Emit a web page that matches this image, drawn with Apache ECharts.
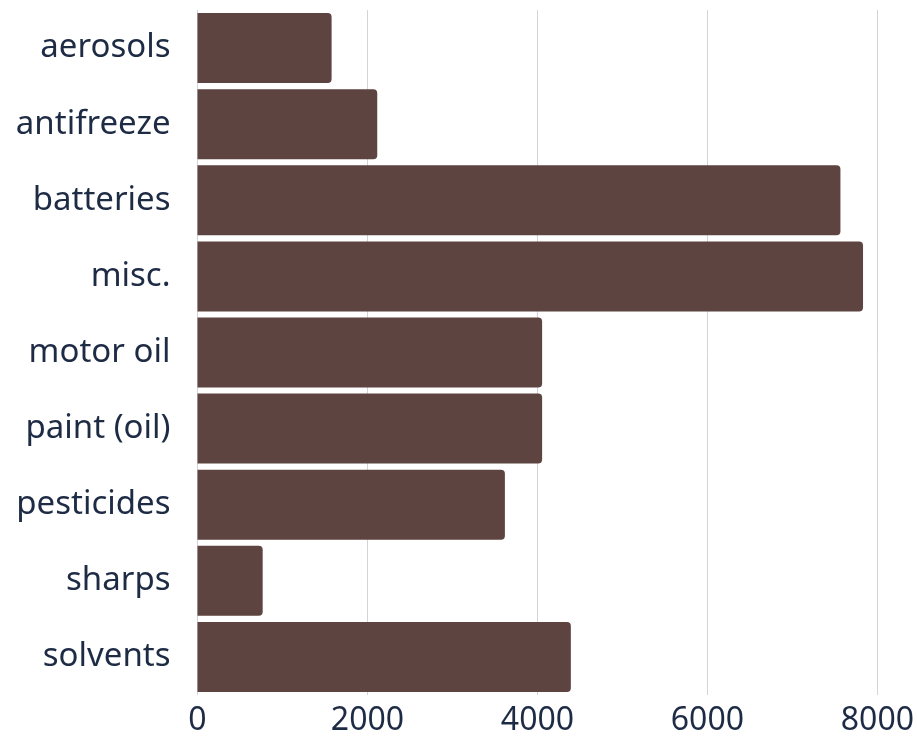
<!DOCTYPE html>
<html>
<head>
<meta charset="utf-8">
<script src="https://cdn.jsdelivr.net/npm/echarts@6/dist/echarts.min.js"></script>
<style>
html,body{margin:0;padding:0;background:#fff;}
#chart{width:917px;height:740px;}
</style>
</head>
<body>
<div id="chart"></div>
<script>
const categories = ['aerosols','antifreeze','batteries','misc.','motor oil','paint (oil)','pesticides','sharps','solvents'];
const values = [1578, 2115, 7565, 7831, 4055, 4055, 3617, 767, 4393];
const xTicks = [0, 2000, 4000, 6000, 8000];

const chart = echarts.init(document.getElementById('chart'), null, {renderer:'canvas'});
chart.setOption({
  animation: false,
  backgroundColor: '#ffffff',
  grid: {left: 197.5, right: 37, top: 10, bottom: 45, containLabel: false},
  xAxis: {
    type: 'value',
    min: xTicks[0],
    max: xTicks[xTicks.length-1],
    interval: xTicks[1]-xTicks[0],
    axisLine: {show:false},
    axisTick: {show:false},
    splitLine: {show:true, lineStyle:{color:'#d3d3db', width:1}},
    axisLabel: {color:'#1e2b45', fontSize:32, fontFamily:'Noto Sans', margin:10,
      formatter: function(v){ return String(v); }}
  },
  yAxis: {
    type: 'category',
    data: categories,
    inverse: true,
    axisLine: {show:false},
    axisTick: {show:false},
    splitLine: {show:false},
    axisLabel: {color:'#1e2b45', fontSize:33, fontFamily:'Noto Sans', margin:27}
  },
  series: [{
    type: 'bar',
    data: values,
    barCategoryGap: '8%',
    itemStyle: {color:'#5d4440', borderRadius:[0,4,4,0]}
  }]
});
</script>
</body>
</html>
